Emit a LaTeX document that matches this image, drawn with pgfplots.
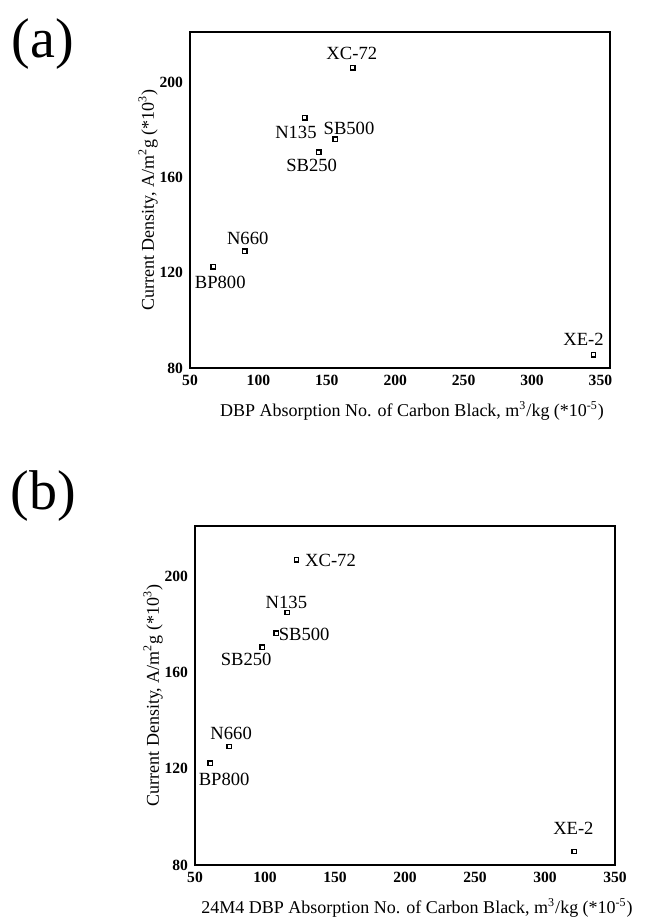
\documentclass[border=0pt]{standalone}
\usepackage{pgfplots}
\pgfplotsset{compat=1.18}
\usepackage{fontspec}
\setmainfont{Liberation Serif}

\pgfplotsset{
  cbstyle/.style={
    scale only axis,
    width=210pt,
    xmin=50, ymin=80, ymax=221,
    xtick={50,100,...,350}, ytick={80,120,160,200},
    major tick length=0pt,
    axis line style={line width=0.9pt},
    tick label style={font=\fontsize{7.8}{8}\selectfont\bfseries},
    /pgf/number format/assume math mode=true,
    label style={font=\fontsize{9}{10}\selectfont},
    xlabel style={xshift=6pt},
    ylabel={Current Density, A/m\textsuperscript{2}g (*10\textsuperscript{3})},
    xlabel shift=1pt,
    ylabel shift=-6pt,
  },
  lbl/.style={
    only marks, mark=square, mark size=1.1pt, mark options={line width=0.7pt, black},
    point meta=explicit symbolic,
    nodes near coords,
    visualization depends on={\thisrow{dx} \as \dx},
    visualization depends on={\thisrow{dy} \as \dy},
    every node near coord/.style={anchor=center, inner sep=0pt, font=\fontsize{9.3}{10}\selectfont, xshift=\dx pt, yshift=\dy pt},
  }
}

\pgfplotstableread{
x y label dx dy
169 206 XC-72 -0.5 7
134 185 N135 -4.5 -7.5
156 176 SB500 7 5.5
144 170.6 SB250 -3.5 -6.5
90 129 N660 1.5 6.5
67 122.5 BP800 3.5 -8
345 85.6 XE-2 -5 7.5
}\dataA

\pgfplotstableread{
x y label dx dy
122.5 207 XC-72 17 -0.5
116 185 N135 -0.5 5
108 176.5 SB500 14 -0.5
98 170.6 SB250 -8 -6
74.4 129.3 N660 1 6.5
60.8 122.4 BP800 7 -8
321 85.6 XE-2 -0.5 11.5
}\dataB

\begin{document}
\begin{tikzpicture}
\path[use as bounding box] (0,0) rectangle (324pt,-458.5pt);
\node[font=\fontsize{28}{30}\selectfont] at (21.5pt,-22pt) {(a)};
\node[font=\fontsize{28}{30}\selectfont] at (21.5pt,-248pt) {(b)};

\begin{axis}[cbstyle, at={(95pt,-184pt)}, anchor=south west,
  height=168pt, xmax=357,
  xlabel={DBP Absorption No. of Carbon Black, m\textsuperscript{3}/kg (*10\textsuperscript{-5})}]
\addplot[lbl] table[x=x, y=y, meta=label] {\dataA};
\end{axis}

\begin{axis}[cbstyle, at={(97.5pt,-432.5pt)}, anchor=south west,
  height=169.5pt, xmax=350,
  xlabel={24M4 DBP Absorption No. of Carbon Black, m\textsuperscript{3}/kg (*10\textsuperscript{-5})}]
\addplot[lbl] table[x=x, y=y, meta=label] {\dataB};
\end{axis}
\end{tikzpicture}
\end{document}
